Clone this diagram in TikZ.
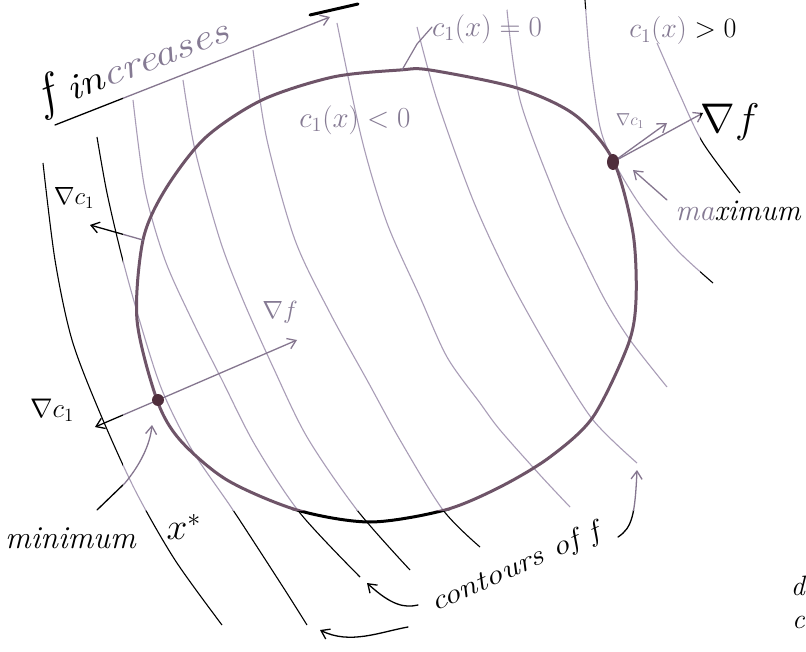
\documentclass[tikz,border=0pt]{standalone}
\usetikzlibrary{arrows.meta}
\definecolor{pline}{HTML}{A99DB7}
\definecolor{pbound}{HTML}{6E5468}
\definecolor{parrow}{HTML}{85768F}
\definecolor{pdot}{HTML}{4F2E3C}
\definecolor{ptext}{HTML}{857A93}
\newcommand\myfs[1]{\fontsize{#1}{#1}\selectfont}
\newcommand\mbig[2]{\myfs{20}\scalebox{#1}{$#2$}}
\tikzset{
  cline/.style={draw=lineink, line width=1.1pt},
  bound/.style={draw=boundink, line width=3pt, line join=round},
  arr/.style={draw=arrink, line width=1.3pt, line cap=round,
    -{Straight Barb[length=8pt,width=11pt,line width=1.3pt]}},
  pointer/.style={draw=arrink, line width=1.2pt, line cap=round},
  dotf/.style={fill=dotink},
  lab/.style={inner sep=0pt},
}
\newcommand\inkpass{%
  % contours of f
  \draw[cline] plot[smooth] coordinates {(43,163) (55,260) (72,340) (100,413) (135,490) (175,560) (222,625)};
  \draw[cline] plot[smooth] coordinates {(97,137) (107,193) (122,257) (140,322) (162,390) (192,450) (233,510) (283,587) (307,625)};
  \draw[cline] plot[smooth] coordinates {(133,100) (145,190) (165,260) (192,320) (222,380) (255,445) (300,513) (360,577)};
  \draw[cline] plot[smooth] coordinates {(183,80) (195,150) (220,240) (243,300) (273,367) (307,437) (357,510) (410,570)};
  \draw[cline] plot[smooth] coordinates {(253,50) (267,140) (295,240) (330,313) (367,380) (400,440) (443,510) (480,547)};
  \draw[cline] plot[smooth] coordinates {(337,23) (362,140) (387,223) (420,297) (447,357) (480,403) (500,430) (540,475) (570,507)};
  \draw[cline] plot[smooth] coordinates {(417,27) (437,100) (473,200) (510,280) (553,357) (593,420) (637,463)};
  \draw[cline] plot[smooth] coordinates {(507,10) (520,100) (557,200) (580,250) (605,300) (630,340) (667,387)};
  \draw[cline] plot[smooth] coordinates {(585,0) (590,60) (600,127) (613,160) (640,205) (677,250) (713,283)};
  \draw[cline] plot[smooth] coordinates {(657,43) (680,95) (703,143) (740,193)};
  % constraint boundary c1(x)=0
  \draw[bound] plot[smooth cycle] coordinates {(333,77) (400,70) (430,70) (517,88) (575,115) (613,160) (633,233) (636,300) (628,345) (593,417) (550,457) (500,487) (445,510) (370,522) (297,510) (227,480) (180,440) (157,400) (137,320) (143,240) (165,190) (205,138) (262,100)};
  % arrows
  \draw[arr] (fA) -- (fB);
  \draw[arr] (maxd) -- (gcmaxtip);
  \draw[arr] (maxd) -- (gfmaxtip);
  \draw[arr] (maxlab) -- (maxpt);
  \draw[arr] (gcls) -- (gclt);
  \draw[arr] (mind) -- (gfmint);
  \draw[arr] (mind) -- (gcmint);
  \draw[arr] (mins) -- (minm) .. controls (140,465) and (150,445) .. (mint);
  \draw[arr] (ca1s) .. controls (405,608) and (392,606) .. (ca1t);
  \draw[arr] (ca2s) .. controls (380,632) and (350,645) .. (ca2t);
  \draw[arr] (ca3s) .. controls (632,528) and (635,515) .. (ca3t);
  \draw[pointer] (bzero) -- (417,44) -- (czp);
  % points
  \fill[dotf] (maxd) ellipse [x radius=6pt, y radius=8pt];
  \fill[dotf] (mind) circle [radius=6pt];
}
\begin{document}
\begin{tikzpicture}[x=1pt,y=-1pt]
\useasboundingbox (0,0) rectangle (806,652);
\coordinate (fA) at (55,125);
\coordinate (fB) at (330,17);
\coordinate (maxd) at (613,162);
\coordinate (mind) at (158,400);
\coordinate (gcmaxtip) at (667,123);
\coordinate (gfmaxtip) at (703,113);
\coordinate (maxlab) at (667,200);
\coordinate (maxpt) at (633,170);
\coordinate (gcls) at (143,240);
\coordinate (gclt) at (90,225);
\coordinate (gfmint) at (297,340);
\coordinate (gcmint) at (95,427);
\coordinate (mins) at (97,510);
\coordinate (minm) at (125,483);
\coordinate (mint) at (152,425);
\coordinate (ca1s) at (418,605);
\coordinate (ca1t) at (367,583);
\coordinate (ca2s) at (408,627);
\coordinate (ca2t) at (320,630);
\coordinate (ca3s) at (618,537);
\coordinate (ca3t) at (637,470);
\coordinate (bzero) at (402,70);
\coordinate (czp) at (432,27);
% first pass: black ink everywhere
\colorlet{lineink}{black}\colorlet{boundink}{black}\colorlet{arrink}{black}\colorlet{dotink}{black}
\inkpass
% the pale purple region of the scan
\fill[white] (123,10) rectangle (700,510);
\begin{scope}
  \clip (123,10) rectangle (700,510);
  \colorlet{lineink}{pline}\colorlet{boundink}{pbound}\colorlet{arrink}{parrow}\colorlet{dotink}{pdot}
  \inkpass
\end{scope}
% black stroke at the top edge
\draw[line width=3pt, line cap=round] (310,15) -- (358,4);
% labels
\node[lab, rotate=21, anchor=base west] (finc) at (44,112) {\myfs{36}\itshape{\myfs{50}f}\hspace{14pt}\scalebox{1.25}[1]{in\textcolor{ptext}{creases}}};
\node[lab, text=ptext] (czero) at (487,29) {\mbig{1.4}{c_1(x)=0}};
\node[lab] (cpos) at (683,31) {\mbig{1.35}{\textcolor{ptext}{c_1(x)}>0}};
\node[lab, text=ptext] (cneg) at (355,120) {\mbig{1.4}{c_1(x)<0}};
\node[lab, text=ptext] (gcmaxl) at (630,121) {\myfs{17}$\nabla c_1$};
\node[lab] (gfmaxl) at (730,122) {\mbig{2}{\nabla f}};
\node[lab] (maxl) at (738,211) {\myfs{30}\itshape\textcolor{ptext}{ma}ximum};
\node[lab] (gcll) at (74,198) {\mbig{1.2}{\nabla c_1}};
\node[lab, text=ptext] (gfminl) at (280,312) {\mbig{1.2}{\nabla f}};
\node[lab] (gcminl) at (52,410) {\mbig{1.3}{\nabla c_1}};
\node[lab, anchor=base west] (minl) at (5,548) {\myfs{32}\itshape minimum};
\node[lab] (xstar) at (184,527) {\mbig{1.8}{x^*}};
\node[lab, rotate=24, anchor=base west] (cont) at (435,612) {\myfs{28}\itshape\scalebox{1.2}[1]{contours of f}};
\node[lab, anchor=base east] (dfrag) at (805,595) {\myfs{28}\itshape d};
\node[lab, anchor=base east] (cfrag) at (805,628) {\myfs{28}\itshape c};
\end{tikzpicture}
\end{document}
